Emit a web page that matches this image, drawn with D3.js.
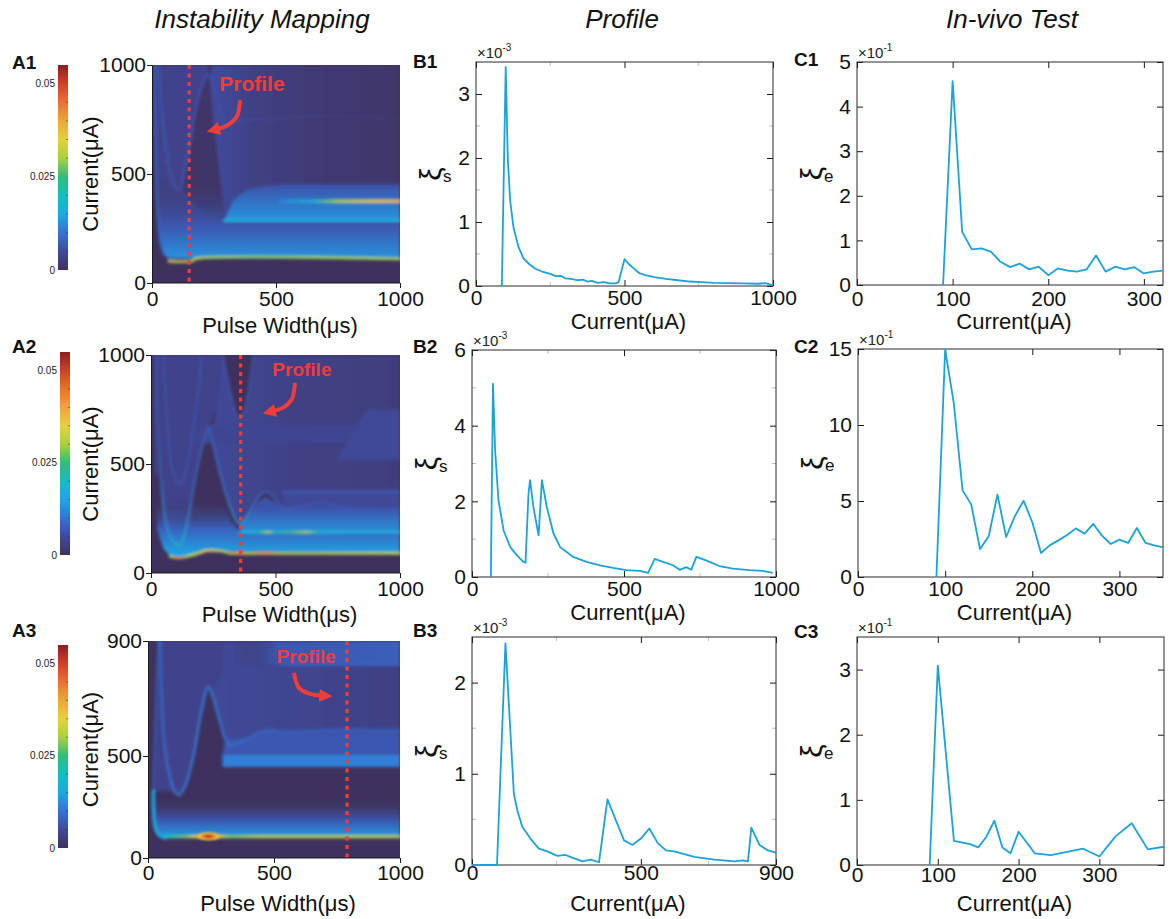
<!DOCTYPE html>
<html>
<head>
<meta charset="utf-8">
<script src="https://cdn.jsdelivr.net/npm/d3@7"></script>
<style>
  body { margin: 0; background: #fff; }
  text { font-family: "Liberation Sans", Arial, Helvetica, sans-serif; }
</style>
</head>
<body>
<div id="chart"></div>
<script>
// ---------------- Data ----------------

// Colour bar shared by the three instability maps
const cbarTicks = [0, 0.025, 0.05];
const cbarMinor = [0.005, 0.01, 0.015, 0.02, 0.03, 0.035, 0.04, 0.045];
const cbarStops = [0, 0.005, 0.010, 0.015, 0.020, 0.025, 0.030, 0.035, 0.040, 0.045, 0.050, 0.055];
const cbarColors = ["#3f315d", "#3f4a9e", "#3474d6", "#1ea7e4", "#17bcc6", "#30bd78",
                    "#a8d23c", "#e6d03c", "#f2a33a", "#e8732c", "#cd4227", "#8e1d1f"];

// Map axes
const mapXTicks = [0, 500, 1000];
const a1YTicks = [0, 500, 1000];
const a2YTicks = [0, 500, 1000];
const a3YTicks = [0, 500, 900];

// Profile cut positions (pulse width, µs)
const a1Cut = 150, a2Cut = 360, a3Cut = 790;

// Map features: [pulse width µs, current µA]
// patches: flat value v, or gradient stops vx (along pulse width) / vy (along current)
const a1Patches = [
  {v: 0.0035, pts: [[12,1000],[15,700],[19,450],[25,280],[35,180],[55,125],[80,112],[300,112],[294,290],[281,411],[267,564],[250,717],[234,931],[225,1000]]},
  {v: 0.0008, pts: [[227,958],[200,900],[173,778],[153,641],[133,518],[122,462],[140,400],[190,340],[250,300],[294,290],[281,411],[267,564],[250,717],[234,931]]},
  {vx: [[240,0.005],[420,0.003],[700,0.0015],[1000,0.001]], pts: [[234,931],[250,717],[267,564],[281,411],[294,290],[1000,290],[1000,1000],[240,1000]]},
  {vy: [[112,0.013],[250,0.007],[480,0]], pts: [[22,330],[25,280],[35,180],[55,125],[80,112],[1000,112],[1000,290],[294,290],[281,411],[276,480],[22,480]]},
  {vy: [[290,0.013],[450,0.006]], pts: [[294,290],[1000,290],[1000,452],[520,452],[440,443],[380,425],[330,380],[305,320]]}
];
const a1Ridges = [
  {v: 0.008, w: 10, pts: [[10,1000],[12,800],[15,600],[19,420],[25,280],[35,180],[50,130],[70,112]]},
  {vx: [[26,0.0065],[230,0.006],[400,0.0045],[700,0.003],[1000,0.0015]], w: 9,
   pts: [[26,1000],[39,794],[59,596],[79,488],[99,434],[110,427],[122,460],[133,518],[153,641],[173,778],[200,900],[227,958],[254,870],[281,778],[304,717],[341,740],[395,748],[489,755],[624,763],[758,763],[1000,758]]},
  {vx: [[68,0.034],[170,0.031],[400,0.029],[1000,0.03]], w: 12, pts: [[68,100],[160,100],[175,110],[1000,110]]},
  {v: 0.016, w: 14, pts: [[294,287],[1000,287]]},
  {vx: [[520,0.012],[650,0.017],[750,0.03],[900,0.036],[1000,0.038]], w: 14, pts: [[520,375],[1000,375]]}
];
const a1Spots = [];

const a2Patches = [
  {v: 0.0035, pts: [[23,1000],[29,610],[43,381],[63,213],[96,136],[116,128],[143,213],[170,381],[197,534],[224,648],[233,668],[262,760],[290,1000]]},
  {vx: [[250,0.0045],[600,0.003],[1000,0.0025]], pts: [[244,610],[277,457],[317,304],[344,235],[357,225],[384,258],[424,335],[458,373],[491,350],[531,297],[598,304],[692,320],[759,304],[1000,297],[1000,1000],[411,1000],[398,885],[371,732],[355,714],[344,725],[317,839],[290,1000],[262,760]]},
  {vy: [[80,0.015],[200,0.008],[350,0]], pts: [[20,350],[25,200],[50,110],[76,80],[110,70],[150,78],[200,100],[1000,94],[1000,185],[357,190],[320,240],[300,300],[20,350]]},
  {vy: [[185,0.013],[300,0.006]], pts: [[357,185],[1000,185],[1000,297],[759,304],[692,320],[598,304],[531,297],[491,330],[458,350],[424,320],[384,250],[357,225]]},
  {v: 0.0045, pts: [[531,300],[1000,300],[1000,373],[531,373]]},
  {v: 0.004, pts: [[175,595],[1000,595],[1000,680],[180,680]]},
  {v: 0.0045, pts: [[866,748],[1000,748],[1000,518],[746,518]]}
];
const a2Ridges = [
  {v: 0.0065, w: 7, pts: [[14,1000],[17,700],[21,450]]},
  {vx: [[76,0.03],[110,0.046],[150,0.03],[230,0.036],[300,0.03],[355,0.04],[390,0.03],[460,0.041],[520,0.03],[1000,0.031]], w: 12,
   pts: [[76,76],[110,68],[143,75],[190,90],[224,102],[277,101],[317,91],[357,90],[1000,90]]},
  {vx: [[357,0.016],[430,0.02],[470,0.03],[500,0.018],[570,0.026],[620,0.03],[680,0.018],[1000,0.016]], w: 12, pts: [[357,187],[1000,187]]},
  {vx: [[23,0.006],[60,0.013],[100,0.022],[130,0.019],[165,0.009],[233,0.0075],[300,0.01],[357,0.015],[450,0.008],[1000,0.006]], w: 7,
   pts: [[23,1000],[29,610],[43,381],[63,213],[96,136],[116,128],[143,213],[170,381],[197,534],[224,648],[233,668],[244,610],[277,457],[317,304],[344,235],[357,225],[384,258],[424,335],[458,373],[491,350],[531,297],[598,304],[692,320],[759,304],[1000,297]]},
  {v: 0.0065, w: 7, pts: [[50,1000],[70,610],[90,457],[114,404],[137,457],[163,610],[190,839],[203,1000]]},
  {v: 0.0065, w: 7, pts: [[290,1000],[317,839],[344,725],[355,714],[371,732],[398,885],[411,1000]]},
  {v: 0.007, w: 10, pts: [[531,373],[1000,373]]}
];
const a2Spots = [];

const a3Patches = [
  {v: 0.0035, pts: [[44,900],[37,706],[30,463],[30,330],[70,330],[107,324],[124,308],[147,349],[180,495],[213,659],[239,741],[253,717],[280,636],[306,560],[320,700],[330,900]]},
  {vx: [[250,0.0045],[1000,0.003]], pts: [[253,717],[280,636],[306,560],[325,537],[392,560],[471,590],[1000,590],[1000,900],[300,900],[300,800]]},
  {v: 0.0065, pts: [[306,560],[392,560],[471,590],[1000,590],[1000,500],[295,500]]},
  {v: 0.011, pts: [[295,500],[1000,500],[1000,446],[295,446]]},
  {vy: [[100,0.014],[180,0.007],[300,0]], pts: [[21,267],[28,153],[48,104],[67,97],[1000,110],[1000,300],[21,300]]},
  {vx: [[330,0],[520,0.0065],[1000,0.0075]], pts: [[330,900],[1000,900],[1000,815],[330,815]]}
];
const a3Ridges = [
  {v: 0.0075, w: 8, pts: [[41,900],[36,800],[32,706],[27,550],[24,463],[22,330]]},
  {v: 0.015, w: 16, pts: [[22,330],[22,220],[28,153],[40,118],[55,104],[70,98]]},
  {vx: [[67,0.02],[150,0.028],[185,0.035],[215,0.045],[240,0.05],[265,0.045],[290,0.034],[330,0.028],[450,0.031],[1000,0.031]], w: 15, pts: [[65,104],[1000,104]]},
  {vx: [[40,0.008],[124,0.010],[240,0.0105],[400,0.008],[1000,0.007]], w: 11,
   pts: [[48,900],[54,706],[67,531],[87,397],[107,324],[124,308],[147,349],[180,495],[213,659],[239,741],[253,717],[280,636],[306,560],[325,537],[352,543],[392,560],[431,578],[471,590],[563,584],[696,590],[1000,590]]},
  {v: 0.012, w: 7, pts: [[295,500],[1000,500]]},
  {vx: [[420,0],[560,0.008],[1000,0.009]], w: 7, pts: [[420,818],[1000,818]]}
];
const a3Spots = [{p: 240, c: 106, rp: 50, rc: 22, v: 0.055}];

// "Profile" annotations in map coordinates
const a1Note = {text: [403, 913], arrow: [[355,839],[343,766],[306,725],[262,706]]};
const a2Note = {text: [606, 936], arrow: [[578,872],[566,798],[534,761],[490,743]]};
const a3Note = {text: [627, 848], arrow: [[579,789],[599,737],[643,716],[690,710]]};

// Profiles (current µA, ξs ×10^-3)
const b1Current = [87,100,107,115,126,143,160,180,200,220,250,270,285,300,320,340,360,375,390,410,430,450,470,480,500,515,530,550,570,600,640,680,720,760,800,850,900,950,975,1000];
const b1Xi = [0,3.42,2.0,1.34,0.92,0.61,0.43,0.34,0.27,0.23,0.19,0.15,0.16,0.12,0.11,0.09,0.10,0.07,0.08,0.05,0.06,0.04,0.04,0.06,0.42,0.34,0.28,0.2,0.17,0.14,0.11,0.09,0.07,0.06,0.05,0.045,0.04,0.035,0.045,0.01];
const b2Current = [62,69,76,87,104,126,148,169,176,186,191,202,219,230,246,268,290,333,377,421,464,508,552,579,601,628,661,683,705,721,738,770,814,858,913,956,989];
const b2Xi = [0,5.11,3.35,2.03,1.23,0.79,0.57,0.40,0.38,2.22,2.56,1.85,1.10,2.56,1.85,1.15,0.79,0.53,0.40,0.31,0.24,0.18,0.16,0.11,0.48,0.40,0.31,0.19,0.26,0.19,0.53,0.44,0.29,0.22,0.18,0.16,0.11];
const b3Current = [0,74,99,124,134,149,173,198,223,252,277,297,327,351,376,401,426,450,475,500,525,550,574,599,658,718,777,802,817,827,851,876,900];
const b3Xi = [0,0,2.43,0.78,0.60,0.42,0.29,0.18,0.15,0.10,0.11,0.08,0.04,0.06,0.03,0.72,0.49,0.27,0.22,0.29,0.40,0.24,0.16,0.15,0.09,0.06,0.04,0.05,0.04,0.41,0.22,0.16,0.135];

// In-vivo (current µA, ξe ×10^-1)
const c1Current = [90,100,110,120,130,140,150,160,170,180,190,200,210,220,230,240,250,260,270,280,290,300,310,320];
const c1Xi = [0,4.57,1.19,0.80,0.82,0.75,0.52,0.40,0.48,0.35,0.41,0.22,0.37,0.32,0.30,0.35,0.66,0.30,0.41,0.35,0.40,0.26,0.30,0.32];
const c2Current = [90,100,110,120,130,140,150,160,170,180,190,200,210,220,230,240,250,260,270,280,290,300,310,320,330,340,350];
const c2Xi = [0,14.96,11.4,5.7,4.76,1.84,2.68,5.42,2.63,4.0,5.02,3.6,1.58,2.08,2.41,2.76,3.2,2.85,3.49,2.72,2.17,2.46,2.24,3.22,2.24,2.08,1.95];
const c3Current = [90,100,120,140,150,160,170,180,190,200,220,240,260,280,300,320,340,360,380];
const c3Xi = [0,3.06,0.37,0.32,0.27,0.43,0.68,0.27,0.18,0.51,0.18,0.15,0.20,0.25,0.13,0.44,0.64,0.24,0.28];

const b1XTicks = [0, 500, 1000], b1YTicks = [0, 1, 2, 3];
const b2XTicks = [0, 500, 1000], b2YTicks = [0, 2, 4, 6];
const b3XTicks = [0, 500, 900],  b3YTicks = [0, 1, 2];
const c1XTicks = [0, 100, 200, 300], c1YTicks = [0, 1, 2, 3, 4, 5];
const c2XTicks = [0, 100, 200, 300], c2YTicks = [0, 5, 10, 15];
const c3XTicks = [0, 100, 200, 300], c3YTicks = [0, 1, 2, 3];

// ---------------- Setup ----------------
const FONT = "'Liberation Sans', Arial, Helvetica, sans-serif";
const LINE = "#1ca2d9";
const RED = "#ef3d3a";
const plain = d => String(d);

const svg = d3.select("#chart").append("svg").attr("width", 1170).attr("height", 919);
const defs = svg.append("defs");

defs.append("filter").attr("id", "soft")
  .append("feGaussianBlur").attr("stdDeviation", 1.4);
defs.append("filter").attr("id", "spotblur")
  .append("feGaussianBlur").attr("stdDeviation", 0.8);

defs.append("marker").attr("id", "head")
  .attr("viewBox", "0 0 10 10").attr("refX", 2).attr("refY", 5)
  .attr("markerWidth", 3.3).attr("markerHeight", 3.3).attr("orient", "auto")
  .append("path").attr("d", "M0,0L10,5L0,10z").attr("fill", RED);

const color = d3.scaleLinear().domain(cbarStops).range(cbarColors).clamp(true);

let gid = 0;
function grad(stops, scale, horizontal) {
  const id = "g" + (gid++);
  const lo = scale(stops[0][0]), hi = scale(stops[stops.length - 1][0]);
  const lg = defs.append("linearGradient").attr("id", id).attr("gradientUnits", "userSpaceOnUse");
  if (horizontal) lg.attr("x1", lo).attr("x2", hi).attr("y1", 0).attr("y2", 0);
  else lg.attr("x1", 0).attr("x2", 0).attr("y1", lo).attr("y2", hi);
  stops.forEach(s => {
    lg.append("stop").attr("offset", (scale(s[0]) - lo) / (hi - lo))
      .attr("stop-color", color(s[1])).attr("stop-opacity", s[1] > 0 ? 1 : 0);
  });
  return `url(#${id})`;
}

function styleAxis(g, size) {
  g.attr("font-size", size).attr("font-family", FONT).attr("color", "#1a1a1a");
  g.selectAll("text").attr("fill", "#111");
}

// Titles
[["Instability Mapping", 262], ["Profile", 622], ["In-vivo Test", 1012]].forEach(t => {
  svg.append("text").attr("x", t[1]).attr("y", 28).attr("text-anchor", "middle")
    .attr("font-size", 26).attr("font-style", "italic").attr("fill", "#111").text(t[0]);
});

// ---------------- Instability maps ----------------
const maps = [
  {id: "A1", patches: a1Patches, ridges: a1Ridges, spots: a1Spots, cut: a1Cut, note: a1Note,
   yDomain: [0, 1000], yTicks: a1YTicks,
   L: {x0: 152, x1: 400, yRange: [283, 65], cbar: [58, 65, 270], label: [12, 69], pad: 3, xLabelY: 325, noteSize: 21}},
  {id: "A2", patches: a2Patches, ridges: a2Ridges, spots: a2Spots, cut: a2Cut, note: a2Note,
   yDomain: [0, 1000], yTicks: a2YTicks,
   L: {x0: 151, x1: 400, yRange: [573, 355], cbar: [60, 352, 555], label: [12, 353], pad: 3, xLabelY: 614, noteSize: 19}},
  {id: "A3", patches: a3Patches, ridges: a3Ridges, spots: a3Spots, cut: a3Cut, note: a3Note,
   yDomain: [0, 500, 900], yTicks: a3YTicks,
   L: {x0: 148, x1: 400, yRange: [858, 756, 641], cbar: [58, 645, 848], label: [12, 637], pad: 2, xLabelY: 903, noteSize: 19}}
];

function drawColorbar(cb) {
  const [cx, top, bot] = cb;
  const cy = d3.scaleLinear().domain([0, 0.055]).range([bot, top]);
  const id = "cb" + (gid++);
  const lg = defs.append("linearGradient").attr("id", id).attr("gradientUnits", "userSpaceOnUse")
    .attr("x1", 0).attr("x2", 0).attr("y1", cy(0)).attr("y2", cy(0.055));
  cbarStops.forEach((s, i) => lg.append("stop").attr("offset", s / 0.055).attr("stop-color", cbarColors[i]));
  svg.append("rect").attr("x", cx).attr("y", top).attr("width", 10).attr("height", bot - top)
    .attr("fill", `url(#${id})`);
  svg.selectAll(null).data(cbarMinor).enter().append("line")
    .attr("x1", cx + 8).attr("x2", cx + 10).attr("y1", d => cy(d)).attr("y2", d => cy(d))
    .attr("stroke", "#333").attr("stroke-opacity", 0.6);
  svg.selectAll(null).data(cbarTicks).enter().append("text")
    .attr("x", cx - 3).attr("y", d => cy(d)).attr("dy", "0.35em")
    .attr("text-anchor", "end").attr("font-size", 10).attr("fill", "#222")
    .text(d => d === 0 ? "0" : d);
}

function drawMap(m) {
  const L = m.L;
  const x = d3.scaleLinear().domain([0, 1000]).range([L.x0, L.x1]);
  const y = d3.scaleLinear().domain(m.yDomain).range(L.yRange);
  const top = L.yRange[L.yRange.length - 1], bot = L.yRange[0];
  const uA = (y(0) - y(m.yDomain[1])) / m.yDomain[1];

  const cid = "clip" + m.id;
  defs.append("clipPath").attr("id", cid).append("rect")
    .attr("x", L.x0).attr("y", top).attr("width", L.x1 - L.x0).attr("height", bot - top);
  const g = svg.append("g").attr("clip-path", `url(#${cid})`);
  g.append("rect").attr("x", L.x0).attr("y", top).attr("width", L.x1 - L.x0)
    .attr("height", bot - top).attr("fill", color(0));

  const soft = g.append("g").attr("filter", "url(#soft)");
  const poly = d3.line().x(d => x(d[0])).y(d => y(d[1])).curve(d3.curveLinearClosed);
  const curve = d3.line().x(d => x(d[0])).y(d => y(d[1])).curve(d3.curveCatmullRom);

  m.patches.forEach(p => {
    const fill = p.v !== undefined ? color(p.v) : p.vx ? grad(p.vx, x, true) : grad(p.vy, y, false);
    soft.append("path").attr("d", poly(p.pts)).attr("fill", fill);
  });
  m.ridges.forEach(r => {
    const stroke = r.v !== undefined ? color(r.v) : grad(r.vx, x, true);
    soft.append("path").attr("d", curve(r.pts)).attr("fill", "none")
      .attr("stroke", stroke).attr("stroke-width", r.w * uA)
      .attr("stroke-linecap", "round").attr("stroke-linejoin", "round");
  });
  m.spots.forEach(s => {
    const id = "sp" + (gid++);
    const rg = defs.append("radialGradient").attr("id", id);
    rg.append("stop").attr("offset", 0).attr("stop-color", color(s.v));
    rg.append("stop").attr("offset", 0.3).attr("stop-color", color(s.v * 0.88));
    rg.append("stop").attr("offset", 0.6).attr("stop-color", color(s.v * 0.72));
    rg.append("stop").attr("offset", 0.85).attr("stop-color", color(s.v * 0.62)).attr("stop-opacity", 0.9);
    rg.append("stop").attr("offset", 1).attr("stop-color", color(s.v * 0.58)).attr("stop-opacity", 0);
    g.append("ellipse").attr("cx", x(s.p)).attr("cy", y(s.c))
      .attr("rx", x(s.p + s.rp) - x(s.p)).attr("ry", (y(0) - y(s.rc)))
      .attr("fill", `url(#${id})`).attr("filter", "url(#spotblur)");
  });

  // profile cut
  g.append("line").attr("x1", x(m.cut)).attr("x2", x(m.cut)).attr("y1", top).attr("y2", bot)
    .attr("stroke", RED).attr("stroke-width", 3.2).attr("stroke-dasharray", "4 4.5");

  // annotation
  svg.append("path").attr("d", curve(m.note.arrow)).attr("fill", "none")
    .attr("stroke", RED).attr("stroke-width", 4).attr("marker-end", "url(#head)");
  svg.append("text").attr("x", x(m.note.text[0])).attr("y", y(m.note.text[1]))
    .attr("dy", "0.35em").attr("text-anchor", "middle").attr("font-weight", "bold")
    .attr("font-size", L.noteSize).attr("fill", RED).text("Profile");

  // axes
  const ax = svg.append("g").attr("transform", `translate(0,${bot})`)
    .call(d3.axisBottom(x).tickValues(mapXTicks).tickFormat(plain).tickSize(5).tickPadding(L.pad));
  styleAxis(ax, 21);
  const ay = svg.append("g").attr("transform", `translate(${L.x0},0)`)
    .call(d3.axisLeft(y).tickValues(m.yTicks).tickFormat(plain).tickSize(5).tickPadding(1).tickSizeOuter(0));
  styleAxis(ay, 21);
  ax.call(a => a.select(".domain").attr("d", `M${L.x0},0H${L.x1}`));

  svg.append("text").attr("x", (L.x0 + L.x1) / 2 + 4).attr("y", L.xLabelY).attr("dy", "0.35em")
    .attr("text-anchor", "middle").attr("font-size", 22).attr("fill", "#111").text("Pulse Width(μs)");
  svg.append("text").attr("transform", `translate(90,${(top + bot) / 2}) rotate(-90)`)
    .attr("dy", "0.35em").attr("text-anchor", "middle").attr("font-size", 22).attr("fill", "#111")
    .text("Current(μA)");
  svg.append("text").attr("x", L.label[0]).attr("y", L.label[1]).attr("font-size", 19)
    .attr("font-weight", "bold").attr("fill", "#111").text(m.id);

  drawColorbar(L.cbar);
}

maps.forEach(drawMap);

// ---------------- Profiles ----------------
const profiles = [
  {id: "B1", x: b1Current, y: b1Xi, xDomain: [0, 1000], yDomain: [0, 3.5], xTicks: b1XTicks, yTicks: b1YTicks,
   sub: "s", exp: "-3", minor: true, L: {x0: 476, x1: 773, y0: 62, y1: 286, padX: 4, label: [413, 68], xLabelY: 321}},
  {id: "C1", x: c1Current, y: c1Xi, xDomain: [0, 320], yDomain: [0, 5], xTicks: c1XTicks, yTicks: c1YTicks,
   sub: "e", exp: "-1", minor: false, L: {x0: 857, x1: 1163, y0: 62, y1: 285, padX: 6, label: [794, 66], xLabelY: 321}},
  {id: "B2", x: b2Current, y: b2Xi, xDomain: [0, 1000], yDomain: [0, 6], xTicks: b2XTicks, yTicks: b2YTicks,
   sub: "s", exp: "-3", minor: true, L: {x0: 472, x1: 776, y0: 350, y1: 577, padX: 4, label: [413, 353], xLabelY: 612}},
  {id: "C2", x: c2Current, y: c2Xi, xDomain: [0, 350], yDomain: [0, 15], xTicks: c2XTicks, yTicks: c2YTicks,
   sub: "e", exp: "-1", minor: false, L: {x0: 858, x1: 1163, y0: 349, y1: 577, padX: 4, label: [794, 353], xLabelY: 612}},
  {id: "B3", x: b3Current, y: b3Xi, xDomain: [0, 900], yDomain: [0, 2.5], xTicks: b3XTicks, yTicks: b3YTicks,
   sub: "s", exp: "-3", minor: true, L: {x0: 472, x1: 776, y0: 637, y1: 865, padX: 0, label: [413, 637], xLabelY: 903}},
  {id: "C3", x: c3Current, y: c3Xi, xDomain: [0, 380], yDomain: [0, 3.5], xTicks: c3XTicks, yTicks: c3YTicks,
   sub: "e", exp: "-1", minor: false, L: {x0: 857, x1: 1164, y0: 637, y1: 865, padX: 2, label: [794, 638], xLabelY: 903}}
];

function drawProfile(p) {
  const L = p.L;
  const x = d3.scaleLinear().domain(p.xDomain).range([L.x0, L.x1]);
  const y = d3.scaleLinear().domain(p.yDomain).range([L.y1, L.y0]);
  const g = svg.append("g");

  if (p.minor) {
    const xm = [], ym = [];
    for (let i = 0; i < p.xTicks.length - 1; i++) xm.push((p.xTicks[i] + p.xTicks[i + 1]) / 2);
    for (let i = 0; i < p.yTicks.length - 1; i++) ym.push((p.yTicks[i] + p.yTicks[i + 1]) / 2);
    const mg = g.append("g").attr("stroke", "#bdbdbd");
    xm.forEach(v => {
      mg.append("line").attr("x1", x(v)).attr("x2", x(v)).attr("y1", L.y1).attr("y2", L.y1 - 4);
      mg.append("line").attr("x1", x(v)).attr("x2", x(v)).attr("y1", L.y0).attr("y2", L.y0 + 4);
    });
    ym.forEach(v => {
      mg.append("line").attr("x1", L.x0).attr("x2", L.x0 + 4).attr("y1", y(v)).attr("y2", y(v));
      mg.append("line").attr("x1", L.x1).attr("x2", L.x1 - 4).attr("y1", y(v)).attr("y2", y(v));
    });
  }

  const axB = g.append("g").attr("transform", `translate(0,${L.y1})`)
    .call(d3.axisBottom(x).tickValues(p.xTicks).tickFormat(plain).tickSize(-6).tickPadding(L.padX));
  const axT = g.append("g").attr("transform", `translate(0,${L.y0})`)
    .call(d3.axisTop(x).tickValues(p.xTicks).tickSize(-6).tickFormat(""));
  const axL = g.append("g").attr("transform", `translate(${L.x0},0)`)
    .call(d3.axisLeft(y).tickValues(p.yTicks).tickFormat(plain).tickSize(-6).tickPadding(6));
  const axR = g.append("g").attr("transform", `translate(${L.x1},0)`)
    .call(d3.axisRight(y).tickValues(p.yTicks).tickSize(-6).tickFormat(""));
  [axB, axT, axL, axR].forEach(a => { styleAxis(a, 21); a.select(".domain").remove(); });

  g.append("rect").attr("x", L.x0).attr("y", L.y0).attr("width", L.x1 - L.x0)
    .attr("height", L.y1 - L.y0).attr("fill", "none").attr("stroke", "#2a2a2a").attr("stroke-width", 1);

  g.append("path").datum(d3.zip(p.x, p.y))
    .attr("d", d3.line().x(d => x(d[0])).y(d => y(d[1])))
    .attr("fill", "none").attr("stroke", LINE).attr("stroke-width", 1.8).attr("stroke-linejoin", "round");

  // ×10^n
  const e = svg.append("text").attr("x", L.x0 + 1).attr("y", L.y0 - 4).attr("font-size", 15).attr("fill", "#222");
  e.append("tspan").text("×10");
  e.append("tspan").attr("font-size", 10).attr("dy", -7).text(p.exp);

  // ξ label
  const my = (L.y0 + L.y1) / 2;
  svg.append("text").attr("transform", `translate(${L.x0 - 46},${my}) rotate(-90)`)
    .attr("text-anchor", "middle").attr("dy", "0.35em").attr("font-size", 30).attr("fill", "#111").text("ξ");
  svg.append("text").attr("x", L.x0 - 33).attr("y", my + 8).attr("font-size", 17).attr("fill", "#111").text(p.sub);

  svg.append("text").attr("x", (L.x0 + L.x1) / 2 + 4).attr("y", L.xLabelY).attr("dy", "0.35em")
    .attr("text-anchor", "middle").attr("font-size", 22).attr("fill", "#111").text("Current(μA)");
  svg.append("text").attr("x", L.label[0]).attr("y", L.label[1]).attr("font-size", 19)
    .attr("font-weight", "bold").attr("fill", "#111").text(p.id);
}

profiles.forEach(drawProfile);
</script>
</body>
</html>
